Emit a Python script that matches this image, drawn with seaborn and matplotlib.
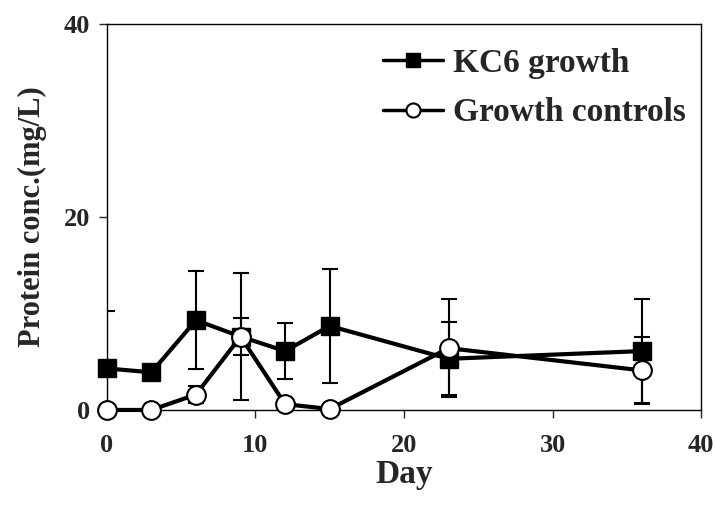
import matplotlib
matplotlib.use("Agg")
import matplotlib.pyplot as plt
import seaborn as sns
import pandas as pd

# Sampling days and protein measurements (mg/L)
days_kc6 = [0, 3, 6, 9, 12, 15, 23, 36]
kc6_mean = [4.3, 3.9, 9.3, 7.6, 6.1, 8.7, 5.3, 6.1]
kc6_err = [6.0, 0.0, 5.1, 1.9, 2.9, 5.9, 3.8, 5.4]

days_ctrl = [0, 3, 6, 9, 12, 15, 23, 36]
ctrl_mean = [0.0, 0.0, 1.6, 7.6, 0.6, 0.1, 6.4, 4.1]
ctrl_err = [0.0, 0.0, 0.9, 6.6, 0.0, 0.0, 5.1, 3.5]

labels = ["KC6 growth", "Growth controls"]
x_ticks = [0, 10, 20, 30, 40]
y_ticks = [0, 20, 40]

sns.set_style("ticks")
plt.rcParams["font.family"] = ["Liberation Serif", "DejaVu Serif"]
plt.rcParams["font.weight"] = "bold"

df_kc6 = pd.DataFrame({"Day": days_kc6, "Protein": kc6_mean})
df_ctrl = pd.DataFrame({"Day": days_ctrl, "Protein": ctrl_mean})

fig = plt.figure(figsize=(7.17, 5.08), dpi=100)
ax = fig.add_axes([0.149, 0.193, 0.829, 0.760])

# Error bars sit beneath the lines and markers
ax.errorbar(days_kc6, kc6_mean, yerr=kc6_err, fmt="none", ecolor="black",
            elinewidth=1.5, capsize=5.5, capthick=1.5, zorder=1)
ax.errorbar(days_ctrl, ctrl_mean, yerr=ctrl_err, fmt="none", ecolor="black",
            elinewidth=1.5, capsize=5.5, capthick=1.5, zorder=1)

sns.lineplot(data=df_kc6, x="Day", y="Protein", ax=ax, color="black",
             linewidth=3, marker="s", markersize=13.5, markerfacecolor="black",
             markeredgecolor="black", markeredgewidth=1, label=labels[0],
             clip_on=False, zorder=3)
sns.lineplot(data=df_ctrl, x="Day", y="Protein", ax=ax, color="black",
             linewidth=3, marker="o", markersize=13.5, markerfacecolor="white",
             markeredgecolor="black", markeredgewidth=1.5, label=labels[1],
             clip_on=False, zorder=4)

ax.set_xlim(0, 40)
ax.set_ylim(0, 40)
ax.set_xticks(x_ticks)
ax.set_yticks(y_ticks)
ax.tick_params(axis="both", direction="out", length=6, width=1, labelsize=19)
ax.tick_params(axis="x", pad=11)
ax.tick_params(axis="y", pad=6)
for lab in ax.get_xticklabels() + ax.get_yticklabels():
    lab.set_fontweight("bold")

for side in ["top", "right", "bottom", "left"]:
    ax.spines[side].set_visible(True)
    ax.spines[side].set_linewidth(1)
    ax.spines[side].set_color("black")

ax.set_xlabel("Day", fontsize=24, fontweight="bold", labelpad=2)
ax.set_ylabel("Protein conc.(mg/L)", fontsize=22, fontweight="bold", labelpad=12)

leg = ax.legend(loc="upper right", frameon=False, fontsize=24,
                handlelength=1.8, handletextpad=0.3, labelspacing=0.55,
                markerscale=0.75, bbox_to_anchor=(1.025, 1.015))
for t in leg.get_texts():
    t.set_fontweight("bold")
for h in leg.legend_handles:
    h.set_linewidth(2.5)

fig.savefig("out.png", dpi=100)
